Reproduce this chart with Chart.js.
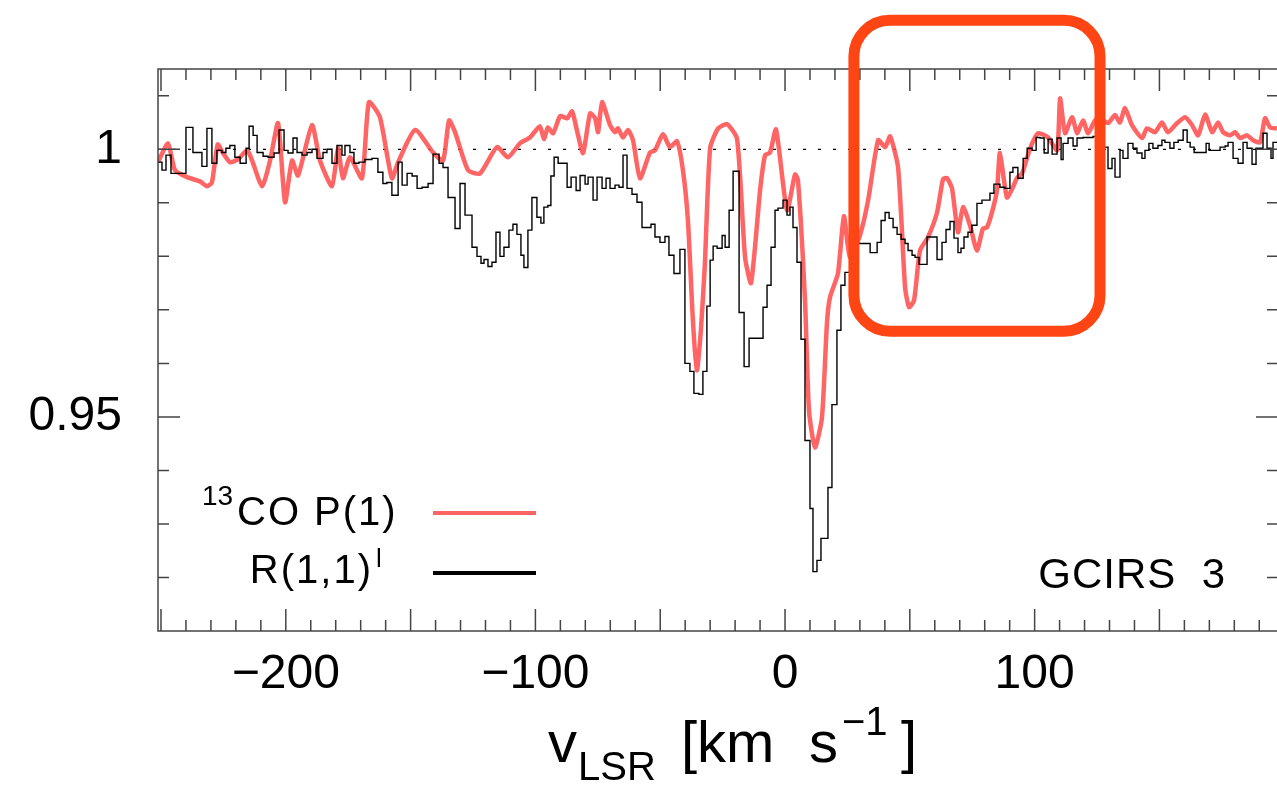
<!DOCTYPE html>
<html>
<head>
<meta charset="utf-8">
<script src="https://cdn.jsdelivr.net/npm/chart.js@4.4.1/dist/chart.umd.min.js"></script>
<style>
    html, body { margin: 0; padding: 0; background: #fff; overflow: hidden; }
    #wrap { width: 1290px; height: 785px; }
</style>
</head>
<body>
<div id="wrap"><canvas id="specChart"></canvas></div>
<script>
// velocity axis [km/s] and normalised flux
const xRange = [-251.2, 197.5];
const yRange = [0.91, 1.015];
const xTickLabels = [-200, -100, 0, 100];
const yTickLabels = [0.95, 1];

// 13CO P(1) - smooth red curve
const coVel = [-251.2, -247.2, -244.4, -239.6, -234.4, -231.6, -229.6, -227.3, -225.3, -222.4,
    -219.2, -215.5, -213.5, -209.5, -206.3, -203.1, -200.3, -197.5, -195.1, -189.5,
    -186.3, -181.5, -179.1, -177.1, -174.3, -169.5, -166.7, -162.3, -157.5, -155.0,
    -148.2, -141.0, -137.0, -134.6, -132.2, -127.0, -122.2, -115.4, -111.0, -106.2,
    -102.2, -98.2, -96.6, -95.0, -92.9, -90.1, -87.3, -85.3, -83.3, -80.9,
    -78.1, -76.1, -74.9, -73.3, -70.1, -68.1, -66.9, -64.9, -62.9, -60.9,
    -58.1, -54.1, -52.1, -48.9, -46.1, -43.3, -40.9, -38.9, -36.9, -35.3,
    -33.7, -32.1, -30.0, -26.8, -23.2, -19.2, -16.0, -13.6, -10.0, -8.0,
    -6.0, -3.6, 0.8, 4.0, 5.2, 8.0, 9.6, 12.0, 14.8, 16.8,
    18.0, 21.2, 23.6, 26.0, 30.0, 33.3, 37.3, 40.1, 42.1, 45.3,
    48.1, 49.7, 51.7, 54.1, 57.3, 60.9, 63.3, 64.9, 66.9, 69.3,
    71.3, 74.1, 76.9, 79.3, 80.9, 82.9, 84.9, 86.1, 88.9, 91.3,
    92.9, 95.0, 98.2, 101.4, 105.4, 109.0, 110.2, 112.2, 115.0, 117.0,
    119.4, 121.4, 124.2, 126.2, 129.4, 132.2, 134.2, 136.2, 139.0, 143.0,
    145.0, 148.2, 151.0, 153.4, 157.1, 160.3, 163.1, 165.5, 168.3, 171.1,
    173.5, 175.5, 178.3, 180.3, 182.3, 185.1, 187.5, 190.3, 192.3, 194.3, 197.1];
const coFlux = [0.9976, 1.0011, 0.9961, 0.9948, 0.9940, 0.9931, 0.9938, 1.0009, 0.9994, 0.9976,
    0.9981, 0.9998, 0.9979, 0.9931, 0.9979, 1.0049, 0.9901, 0.9979, 0.9951, 1.0045,
    0.9979, 0.9931, 1.0002, 0.9946, 0.9985, 0.9946, 1.0088, 1.0060, 0.9946, 0.9976,
    1.0036, 0.9994, 0.9979, 1.0054, 1.0032, 0.9961, 0.9955, 1.0004, 0.9985, 1.0011,
    1.0022, 1.0043, 1.0019, 1.0041, 1.0030, 1.0062, 1.0058, 1.0071, 1.0034, 0.9993,
    1.0067, 1.0058, 1.0032, 1.0088, 1.0045, 1.0032, 1.0039, 1.0022, 1.0036, 1.0017,
    0.9946, 0.9994, 0.9998, 1.0028, 1.0004, 1.0015, 0.9961, 0.9867, 0.9680, 0.9587,
    0.9662, 0.9787, 1.0002, 1.0039, 1.0047, 1.0019, 0.9798, 0.9750, 0.9923, 0.9989,
    0.9994, 1.0037, 0.9886, 0.9953, 0.9942, 0.9718, 0.9512, 0.9443, 0.9499, 0.9675,
    0.9723, 0.9768, 0.9875, 0.9798, 0.9839, 0.9905, 1.0017, 1.0004, 1.0024, 0.9966,
    0.9742, 0.9705, 0.9718, 0.9811, 0.9836, 0.9882, 0.9944, 0.9946, 0.9927, 0.9845,
    0.9892, 0.9858, 0.9811, 0.9852, 0.9854, 0.9882, 0.9923, 0.9993, 0.9910, 0.9929,
    0.9946, 0.9955, 1.0002, 1.0030, 1.0022, 0.9998, 1.0095, 1.0030, 1.0060, 1.0030,
    1.0054, 1.0030, 1.0054, 1.0058, 1.0049, 1.0064, 1.0050, 1.0077, 1.0045, 1.0021,
    1.0039, 1.0032, 1.0050, 1.0032, 1.0049, 1.0060, 1.0045, 1.0026, 1.0065, 1.0032,
    1.0050, 1.0032, 1.0026, 1.0032, 1.0021, 1.0026, 1.0017, 1.0013, 1.0058, 1.0041, 1.0039];

// H3+ R(1,1)^l - histogram, value holds from each left bin edge
const h3Vel = [-251.2, -249.6, -248.0, -246.0, -240.0, -237.2, -233.6, -231.6, -229.6, -227.6,
    -225.6, -224.0, -222.4, -220.4, -218.3, -215.9, -214.7, -213.1, -211.5, -209.1,
    -207.1, -204.7, -202.7, -200.7, -199.1, -197.1, -195.5, -193.5, -191.5, -189.5,
    -187.5, -185.1, -183.5, -181.5, -179.5, -177.5, -176.3, -174.3, -172.7, -170.7,
    -168.3, -165.5, -163.1, -161.1, -159.5, -157.5, -155.0, -153.4, -151.4, -149.4,
    -147.4, -145.4, -143.0, -141.0, -138.6, -137.0, -135.0, -132.2, -130.2, -128.2,
    -125.4, -123.4, -121.8, -120.6, -119.0, -117.4, -115.8, -114.2, -112.6, -110.6,
    -109.0, -107.4, -105.8, -104.6, -103.0, -101.4, -99.4, -97.8, -96.6, -95.0,
    -93.8, -92.5, -90.9, -88.9, -87.3, -85.7, -83.7, -82.1, -80.1, -78.9,
    -76.9, -75.3, -73.3, -71.7, -70.1, -68.1, -66.5, -64.9, -63.3, -61.3,
    -59.3, -57.3, -55.7, -53.7, -52.1, -50.1, -48.1, -46.5, -44.5, -42.1,
    -40.1, -38.1, -36.5, -34.5, -32.9, -31.3, -30.0, -28.8, -27.2, -25.2,
    -24.0, -22.4, -20.8, -18.4, -16.4, -14.4, -8.8, -7.2, -5.6, -4.0,
    -2.8, -0.8, 0.8, 2.0, 3.2, 4.8, 6.4, 8.0, 10.0, 11.2,
    12.8, 14.4, 17.2, 18.8, 20.8, 22.4, 24.0, 26.0, 28.4, 34.1,
    36.9, 38.5, 40.1, 41.7, 43.3, 44.9, 46.5, 48.1, 49.3, 50.9,
    52.1, 53.7, 56.9, 60.9, 62.9, 64.5, 66.1, 67.7, 69.3, 70.5,
    71.7, 73.3, 74.9, 76.9, 78.9, 82.1, 83.7, 86.1, 88.1, 90.1,
    91.3, 93.3, 95.4, 97.0, 99.0, 100.6, 102.2, 103.8, 105.4, 107.0,
    109.0, 110.6, 111.4, 113.4, 115.4, 117.0, 119.4, 123.4, 125.4, 127.4,
    129.4, 131.0, 132.2, 134.2, 135.4, 137.4, 139.4, 141.0, 143.0, 144.2,
    145.8, 147.4, 149.4, 151.0, 152.2, 154.2, 155.8, 157.5, 159.5, 161.1,
    162.3, 163.9, 168.7, 169.9, 174.3, 176.3, 177.5, 179.5, 181.5, 183.5,
    185.1, 187.1, 188.7, 191.5, 193.1, 194.7, 195.5, 197.5];
const h3Flux = [0.9976, 0.9961, 0.9989, 0.9955, 1.0041, 0.9994, 0.9968, 1.0039, 0.9974, 0.9998,
    0.9994, 1.0002, 1.0007, 0.9985, 0.9974, 1.0002, 1.0043, 1.0026, 0.9994, 0.9987,
    0.9985, 0.9993, 1.0036, 0.9998, 0.9993, 1.0021, 0.9994, 0.9989, 0.9994, 1.0000,
    0.9983, 0.9994, 1.0000, 0.9974, 1.0007, 0.9989, 1.0007, 0.9994, 0.9974, 0.9976,
    0.9981, 0.9983, 0.9957, 0.9936, 0.9938, 0.9914, 0.9976, 0.9933, 0.9955, 0.9950,
    0.9927, 0.9929, 0.9936, 0.9991, 0.9974, 0.9966, 0.9910, 0.9852, 0.9936, 0.9877,
    0.9817, 0.9800, 0.9787, 0.9794, 0.9781, 0.9789, 0.9845, 0.9800, 0.9817, 0.9849,
    0.9860, 0.9841, 0.9802, 0.9779, 0.9849, 0.9910, 0.9873, 0.9862, 0.9892, 0.9895,
    0.9950, 0.9985, 0.9974, 0.9974, 0.9929, 0.9948, 0.9923, 0.9951, 0.9935, 0.9948,
    0.9905, 0.9948, 0.9927, 0.9946, 0.9927, 0.9933, 0.9929, 0.9989, 0.9927, 0.9916,
    0.9901, 0.9854, 0.9854, 0.9860, 0.9836, 0.9826, 0.9837, 0.9802, 0.9768, 0.9813,
    0.9600, 0.9585, 0.9544, 0.9542, 0.9585, 0.9707, 0.9793, 0.9819, 0.9815, 0.9839,
    0.9817, 0.9886, 0.9959, 0.9695, 0.9594, 0.9647, 0.9705, 0.9746, 0.9817, 0.9886,
    0.9890, 0.9905, 0.9877, 0.9892, 0.9854, 0.9789, 0.9645, 0.9456, 0.9329, 0.9211,
    0.9232, 0.9273, 0.9368, 0.9523, 0.9662, 0.9746, 0.9770, 0.9802, 0.9824, 0.9807,
    0.9826, 0.9867, 0.9882, 0.9871, 0.9854, 0.9841, 0.9832, 0.9824, 0.9811, 0.9802,
    0.9798, 0.9785, 0.9836, 0.9794, 0.9826, 0.9850, 0.9865, 0.9834, 0.9807, 0.9815,
    0.9836, 0.9845, 0.9858, 0.9899, 0.9905, 0.9918, 0.9935, 0.9929, 0.9927, 0.9957,
    0.9966, 0.9946, 0.9983, 1.0002, 0.9998, 1.0022, 1.0021, 0.9993, 1.0019, 0.9991,
    1.0021, 0.9981, 1.0011, 1.0021, 1.0006, 1.0021, 1.0022, 1.0024, 1.0017, 1.0004,
    0.9964, 0.9983, 0.9948, 0.9998, 0.9983, 1.0011, 1.0002, 0.9993, 0.9983, 0.9998,
    1.0011, 1.0002, 1.0007, 1.0017, 1.0013, 1.0002, 1.0013, 1.0017, 1.0036, 1.0013,
    1.0004, 0.9994, 1.0011, 0.9998, 1.0004, 1.0006, 1.0013, 0.9983, 0.9974, 1.0013,
    1.0002, 0.9972, 1.0002, 1.0030, 1.0002, 0.9983, 1.0013, 1.0013];

// highlighted window (velocity / flux corners of the orange box)
const boxVel = [27.6, 126.2];
const boxFlux = [0.966, 1.0241];

const FONT = "'Liberation Sans', Arial, sans-serif";

const frameAndTicks = {
    id: 'frameAndTicks',
    afterDatasetsDraw(chart) {
        const { ctx, chartArea: a, scales: { x, y } } = chart;
        ctx.save();
        ctx.strokeStyle = '#444';
        ctx.lineWidth = 1.5;
        ctx.strokeRect(a.left, a.top, a.right - a.left, a.bottom - a.top);

        ctx.beginPath();
        for (let v = -250; v <= 190; v += 10) {
            const px = x.getPixelForValue(v);
            const len = v % 50 === 0 ? 22 : 11;
            ctx.moveTo(px, a.bottom); ctx.lineTo(px, a.bottom - len);
            ctx.moveTo(px, a.top); ctx.lineTo(px, a.top + len);
        }
        for (let k = 92; k <= 101; k++) {
            const py = y.getPixelForValue(k / 100);
            const len = k % 5 === 0 ? 22 : 11;
            ctx.moveTo(a.left, py); ctx.lineTo(a.left + len, py);
            ctx.moveTo(a.right, py); ctx.lineTo(a.right - len, py);
        }
        ctx.stroke();
        ctx.restore();
    },
    afterDraw(chart) {
        const { ctx, scales: { x, y } } = chart;
        ctx.save();
        ctx.fillStyle = '#000';
        ctx.textBaseline = 'alphabetic';

        // legend
        ctx.font = `28px ${FONT}`;
        ctx.fillText('13', 202, 505);
        ctx.font = `40px ${FONT}`;
        ctx.letterSpacing = '2px';
        ctx.fillText('CO P(1)', 237, 525);
        ctx.textAlign = 'right';
        ctx.fillText('R(1,1)', 373, 583);
        ctx.textAlign = 'left';
        ctx.letterSpacing = '0px';
        ctx.font = `26px ${FONT}`;
        ctx.fillText('l', 376, 567);

        ctx.lineWidth = 4;
        ctx.strokeStyle = '#ff6464';
        ctx.beginPath(); ctx.moveTo(433, 513); ctx.lineTo(536, 513); ctx.stroke();
        ctx.strokeStyle = '#000';
        ctx.beginPath(); ctx.moveTo(433, 573); ctx.lineTo(536, 573); ctx.stroke();

        ctx.font = `42px ${FONT}`;
        ctx.letterSpacing = '1px';
        ctx.textAlign = 'right';
        ctx.fillText('GCIRS  3', 1226, 588);
        ctx.textAlign = 'left';
        ctx.letterSpacing = '0px';

        // x axis title: v_LSR [km s^-1]
        ctx.font = `58px ${FONT}`;
        ctx.fillText('v', 548, 762);
        ctx.font = `40px ${FONT}`;
        ctx.fillText('LSR', 578, 780);
        ctx.font = `58px ${FONT}`;
        ctx.fillText('[km', 681, 762);
        ctx.fillText('s', 809, 762);
        ctx.font = `40px ${FONT}`;
        ctx.fillText('\u22121', 842, 735);
        ctx.font = `58px ${FONT}`;
        ctx.fillText(']', 901, 762);

        // orange highlight box
        const x0 = x.getPixelForValue(boxVel[0]), x1 = x.getPixelForValue(boxVel[1]);
        const y0 = y.getPixelForValue(boxFlux[1]), y1 = y.getPixelForValue(boxFlux[0]);
        ctx.strokeStyle = '#ff4514';
        ctx.lineWidth = 11;
        ctx.beginPath();
        ctx.roundRect(x0, y0, x1 - x0, y1 - y0, 36);
        ctx.stroke();
        ctx.restore();
    }
};

const chartCanvas = document.getElementById('specChart');

new Chart(chartCanvas, {
    type: 'line',
    data: {
        datasets: [
            {
                label: 'R(1,1)l',
                data: h3Vel.map((v, i) => ({ x: v, y: h3Flux[i] })),
                borderColor: '#000',
                borderWidth: 1.4,
                stepped: 'before',
                pointRadius: 0,
            },
            {
                label: '13CO P(1)',
                data: coVel.map((v, i) => ({ x: v, y: coFlux[i] })),
                borderColor: 'rgba(255, 80, 80, 0.88)',
                borderWidth: 4.5,
                tension: 0.2,
                pointRadius: 0,
            },
            {
                label: 'continuum',
                data: xRange.map(v => ({ x: v, y: 1 })),
                borderColor: '#000',
                borderWidth: 1.3,
                borderDash: [3, 12],
                pointRadius: 0,
            },
        ],
    },
    options: {
        responsive: true,
        maintainAspectRatio: false,
        animation: false,
        layout: {
            padding: { left: 0, top: 69, right: 12, bottom: 0 }
        },
        plugins: {
            legend: { display: false },
            tooltip: { enabled: false },
        },
        scales: {
            x: {
                type: 'linear',
                min: xRange[0],
                max: xRange[1],
                border: { display: false },
                grid: { display: false, drawTicks: false },
                afterBuildTicks: s => { s.ticks = xTickLabels.map(v => ({ value: v })); },
                afterFit: s => { s.height = 154; },
                ticks: {
                    color: '#000',
                    padding: 15,
                    maxRotation: 0,
                    autoSkip: false,
                    font: { family: FONT, size: 48 },
                    callback: v => (v < 0 ? '\u2212' + Math.abs(v) : String(v)),
                },
            },
            y: {
                min: yRange[0],
                max: yRange[1],
                border: { display: false },
                grid: { display: false, drawTicks: false },
                afterBuildTicks: s => { s.ticks = yTickLabels.map(v => ({ value: v })); },
                afterFit: s => { s.width = 158; },
                ticks: {
                    color: '#000',
                    padding: 36,
                    font: { family: FONT, size: 48 },
                    callback: v => String(v),
                },
            },
        },
    },
    plugins: [frameAndTicks],
});
</script>
</body>
</html>
